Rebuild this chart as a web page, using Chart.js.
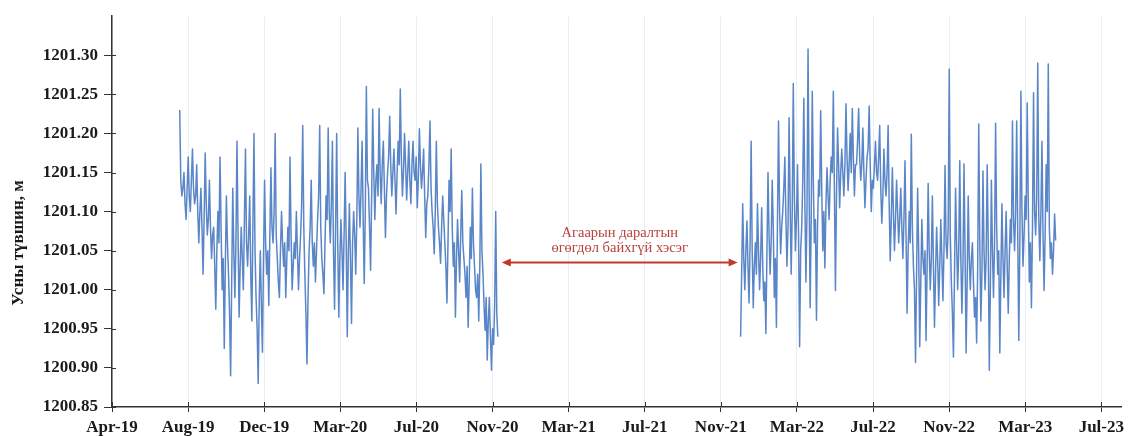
<!DOCTYPE html>
<html>
<head>
<meta charset="utf-8">
<script src="https://cdn.jsdelivr.net/npm/chart.js@4.4.1/dist/chart.umd.min.js"></script>
<style>
  html, body { margin: 0; padding: 0; background: #ffffff; }
  #wrap { width: 1129px; height: 436px; position: relative; }
</style>
</head>
<body>
<div id="wrap"><canvas id="levelChart"></canvas></div>
<script>
// x axis runs in label steps: 0 = Apr-19, 1 = Aug-19, ...
const tickLabels = ['Apr-19', 'Aug-19', 'Dec-19', 'Mar-20', 'Jul-20', 'Nov-20', 'Mar-21',
                    'Jul-21', 'Nov-21', 'Mar-22', 'Jul-22', 'Nov-22', 'Mar-23', 'Jul-23'];
const yTicks = { min: 1200.85, max: 1201.35, step: 0.05 };
const yTitle = 'Усны түвшин, м';
const noteLines = ['Агаарын даралтын', 'өгөгдөл байхгүй хэсэг'];

// first logger record, Jul-19 .. Dec-20
const seg1Start = 0.89, seg1End = 5.07;
const seg1Levels = [
  1201.23, 1201.14, 1201.12, 1201.13, 1201.15, 1201.11, 1201.09, 1201.13, 1201.17, 1201.12,
  1201.10, 1201.14, 1201.18, 1201.13, 1201.11, 1201.12, 1201.16, 1201.10,
  1201.06, 1201.10, 1201.13, 1201.08, 1201.02, 1201.09, 1201.175, 1201.11, 1201.07, 1201.09,
  1201.14, 1201.08, 1201.04, 1201.07,
  1201.08, 1201.03, 1200.975, 1201.05, 1201.10, 1201.06, 1201.17, 1201.08, 1201.00, 1201.04,
  1200.925, 1201.03, 1201.12, 1201.06,
  1201.02, 1200.97, 1200.89, 1201.01, 1201.13, 1201.05, 1200.99, 1201.06, 1201.19, 1201.07,
  1200.965, 1201.03, 1201.08, 1201.04,
  1201.00, 1201.09, 1201.18, 1201.06, 1201.03, 1201.07, 1201.12, 1201.02, 1200.96, 1201.08,
  1201.20, 1201.05, 1200.99, 1200.95, 1200.88, 1200.99,
  1201.05, 1200.98, 1200.92, 1201.04, 1201.14, 1201.06, 1201.02, 1201.05, 1200.98, 1201.07,
  1201.156, 1201.08, 1201.06, 1201.10, 1201.20, 1201.07,
  1201.04, 1201.01, 1200.99, 1201.05, 1201.10, 1201.06, 1201.03, 1201.06, 1200.99, 1201.04,
  1201.08, 1201.05, 1201.17, 1201.07, 1201.00, 1201.03, 1201.06, 1201.04,
  1201.10, 1201.05, 1201.00, 1201.04, 1201.07, 1201.11, 1201.21, 1201.08, 1201.02, 1200.97,
  1200.905, 1200.99, 1201.05, 1201.08, 1201.14, 1201.06, 1201.03, 1201.06, 1201.01, 1201.05,
  1201.09, 1201.12, 1201.21, 1201.08, 1201.04, 1201.02, 1200.995, 1201.06, 1201.12, 1201.09,
  1201.207, 1201.10, 1201.06, 1201.11, 1201.19, 1201.05, 1200.975, 1201.08, 1201.20, 1201.06,
  1200.965, 1201.04, 1201.09, 1201.05, 1201.00, 1201.07, 1201.15, 1201.06, 1200.94, 1201.05,
  1201.11, 1201.04, 1200.957, 1201.06,
  1201.10, 1201.07, 1201.02, 1201.09, 1201.207, 1201.12, 1201.08, 1201.13, 1201.19, 1201.09,
  1201.008, 1201.10, 1201.26, 1201.14,
  1201.13, 1201.08, 1201.025, 1201.12, 1201.231, 1201.15, 1201.09, 1201.14, 1201.16, 1201.12,
  1201.232, 1201.15, 1201.11, 1201.16,
  1201.19, 1201.13, 1201.067, 1201.12, 1201.15, 1201.17, 1201.222, 1201.16, 1201.12, 1201.15,
  1201.18, 1201.14, 1201.097, 1201.15,
  1201.19, 1201.16, 1201.257, 1201.17, 1201.12, 1201.15, 1201.20, 1201.16, 1201.115, 1201.15,
  1201.19, 1201.14, 1201.11, 1201.16,
  1201.19, 1201.15, 1201.14, 1201.17, 1201.105, 1201.14, 1201.206, 1201.16, 1201.13, 1201.15,
  1201.18, 1201.12, 1201.067, 1201.11,
  1201.12, 1201.16, 1201.216, 1201.13, 1201.10, 1201.08, 1201.046, 1201.10, 1201.19, 1201.11,
  1201.08, 1201.06, 1201.034, 1201.08,
  1201.12, 1201.09, 1201.06, 1201.03, 1200.983, 1201.06, 1201.14, 1201.10, 1201.18, 1201.08,
  1201.03, 1201.06, 1200.965, 1201.04,
  1201.09, 1201.05, 1201.01, 1201.07, 1201.127, 1201.06, 1201.04, 1201.02, 1200.99, 1201.03,
  1200.952, 1201.01, 1201.08, 1201.04,
  1201.13, 1201.06, 1201.03, 1201.00, 1200.99, 1201.02, 1200.96, 1201.03, 1201.161, 1201.05,
  1201.02, 1200.98, 1200.948, 1200.99,
  1200.91, 1200.96, 1200.99, 1200.94, 1200.897, 1200.95, 1200.93, 1200.98, 1201.10, 1200.97,
  1200.94
];

// second logger record, Dec-21 .. May-23
const seg2Start = 8.26, seg2End = 12.40;
const seg2Levels = [
  1200.94, 1201.02, 1201.11, 1201.04, 1201.00, 1201.05, 1201.088, 1201.03, 1200.983, 1201.06,
  1201.19, 1201.05,
  1200.977, 1201.03, 1201.06, 1201.02, 1201.11, 1201.05, 1201.00, 1201.04, 1201.105, 1201.03,
  1200.986, 1201.01, 1200.944, 1201.05,
  1201.15, 1201.07, 1201.02, 1201.06, 1201.14, 1201.08, 1200.99, 1201.04, 1200.952, 1201.09,
  1201.216, 1201.10, 1201.046, 1201.08,
  1201.10, 1201.13, 1201.17, 1201.09, 1201.03, 1201.08, 1201.22, 1201.11, 1201.02, 1201.10,
  1201.264, 1201.12, 1201.05, 1201.09,
  1201.16, 1201.07, 1200.927, 1201.05, 1201.08, 1201.14, 1201.245, 1201.11, 1201.01, 1201.10,
  1201.308, 1201.13, 1200.977, 1201.09,
  1201.254, 1201.14, 1201.06, 1201.09, 1200.961, 1201.08, 1201.14, 1201.12, 1201.229, 1201.13,
  1201.05, 1201.10, 1201.028, 1201.11,
  1201.156, 1201.12, 1201.09, 1201.14, 1201.17, 1201.15, 1201.254, 1201.13, 1200.999, 1201.12,
  1201.207, 1201.16, 1201.105, 1201.15,
  1201.18, 1201.15, 1201.12, 1201.16, 1201.238, 1201.17, 1201.127, 1201.16, 1201.20, 1201.15,
  1201.232, 1201.17, 1201.12, 1201.16,
  1201.16, 1201.19, 1201.232, 1201.17, 1201.14, 1201.16, 1201.207, 1201.15, 1201.105, 1201.14,
  1201.17, 1201.18, 1201.235, 1201.16,
  1201.10, 1201.14, 1201.13, 1201.16, 1201.19, 1201.15, 1201.14, 1201.17, 1201.21, 1201.13,
  1201.085, 1201.12, 1201.18, 1201.14, 1201.12, 1201.15, 1201.21, 1201.11, 1201.037, 1201.09,
  1201.156, 1201.10, 1201.05, 1201.09,
  1201.14, 1201.10, 1201.06, 1201.09, 1201.13, 1201.08, 1201.04, 1201.09, 1201.165, 1201.07,
  1200.97, 1201.05, 1201.10, 1201.06,
  1201.199, 1201.08, 1201.03, 1201.00, 1200.907, 1201.02, 1201.13, 1201.05, 1200.927, 1201.01,
  1201.09, 1201.04, 1201.02, 1201.05,
  1200.935, 1201.03, 1201.136, 1201.05, 1201.00, 1201.04, 1201.12, 1201.03, 1200.952, 1201.02,
  1201.08, 1201.04, 1200.98, 1201.03,
  1201.09, 1201.04, 1200.986, 1201.05, 1201.159, 1201.06, 1201.04, 1201.08, 1201.282, 1201.07,
  1201.01, 1200.97, 1200.914, 1201.02,
  1201.13, 1201.06, 1201.00, 1201.05, 1201.165, 1201.04, 1200.97, 1201.03, 1201.161, 1201.05,
  1200.919, 1201.01, 1201.12, 1201.04,
  1201.00, 1201.04, 1201.06, 1201.01, 1200.965, 1200.99, 1200.932, 1201.03, 1201.212, 1201.06,
  1200.96, 1201.02, 1201.152, 1201.05,
  1201.00, 1201.04, 1201.16, 1201.06, 1200.897, 1201.00, 1201.14, 1201.05, 1200.99, 1201.06,
  1201.213, 1201.08, 1201.02, 1201.05,
  1200.919, 1201.02, 1201.11, 1201.04, 1200.99, 1201.05, 1201.10, 1201.03, 1200.97, 1201.04,
  1201.09, 1201.06, 1201.216, 1201.09,
  1201.05, 1201.10, 1201.216, 1201.07, 1200.935, 1201.06, 1201.254, 1201.10, 1201.03, 1201.07,
  1201.12, 1201.09, 1201.239, 1201.11,
  1201.01, 1201.06, 1200.977, 1201.08, 1201.252, 1201.10, 1201.07, 1201.12, 1201.29, 1201.09,
  1201.037, 1201.10, 1201.19, 1201.07,
  1200.999, 1201.07, 1201.16, 1201.10, 1201.289, 1201.08, 1201.04, 1201.06, 1201.02, 1201.05,
  1201.097, 1201.063
];

// level at which the "no pressure data" arrow is drawn
const gapLevel = 1201.035;

const serif = "'Liberation Serif', 'Times New Roman', serif";
const lineColor = '#5a86c8';
const noteColor = '#c0392b';

function toPoints(start, end, values) {
  const step = (end - start) / (values.length - 1);
  return values.map((v, i) => ({ x: start + i * step, y: v }));
}

const extras = {
  id: 'extras',
  afterDraw(chart) {
    const { ctx, chartArea, scales: { x, y } } = chart;
    ctx.save();

    // inner half of the cross tick marks
    ctx.strokeStyle = '#333';
    ctx.lineWidth = 1;
    x.ticks.forEach((t, i) => {
      const px = Math.round(x.getPixelForTick(i)) + 0.5;
      ctx.beginPath();
      ctx.moveTo(px, chartArea.bottom);
      ctx.lineTo(px, chartArea.bottom - 5);
      ctx.stroke();
    });
    y.ticks.forEach((t, i) => {
      const py = Math.round(y.getPixelForTick(i)) + 0.5;
      ctx.beginPath();
      ctx.moveTo(chartArea.left, py);
      ctx.lineTo(chartArea.left + 4, py);
      ctx.stroke();
    });

    // y axis title
    ctx.save();
    ctx.translate(19, 243);
    ctx.rotate(-Math.PI / 2);
    ctx.fillStyle = '#1a1a1a';
    ctx.font = "bold 17px " + serif;
    ctx.textAlign = 'center';
    ctx.textBaseline = 'middle';
    ctx.fillText(yTitle, 0, 0);
    ctx.restore();

    // double arrow over the gap between the two records
    const x0 = x.getPixelForValue(seg1End) + 4;
    const x1 = x.getPixelForValue(seg2Start) - 3;
    const ay = Math.round(y.getPixelForValue(gapLevel)) + 0.5;
    ctx.strokeStyle = noteColor;
    ctx.fillStyle = noteColor;
    ctx.lineWidth = 2;
    ctx.beginPath();
    ctx.moveTo(x0 + 6, ay);
    ctx.lineTo(x1 - 6, ay);
    ctx.stroke();
    [[x0, 1], [x1, -1]].forEach(([hx, dir]) => {
      ctx.beginPath();
      ctx.moveTo(hx, ay);
      ctx.lineTo(hx + dir * 9, ay - 4);
      ctx.lineTo(hx + dir * 9, ay + 4);
      ctx.closePath();
      ctx.fill();
    });

    // note text above the arrow
    const cx = (x0 + x1) / 2;
    ctx.font = "14.5px " + serif;
    ctx.textAlign = 'center';
    ctx.textBaseline = 'middle';
    ctx.fillStyle = '#b8413a';
    ctx.fillText(noteLines[0], cx, ay - 29);
    ctx.fillText(noteLines[1], cx, ay - 14);

    ctx.restore();
  }
};

new Chart(document.getElementById('levelChart'), {
  type: 'line',
  data: {
    datasets: [
      { data: toPoints(seg1Start, seg1End, seg1Levels) },
      { data: toPoints(seg2Start, seg2End, seg2Levels) }
    ].map(d => Object.assign(d, {
      borderColor: lineColor,
      borderWidth: 1.5,
      borderJoinStyle: 'round',
      pointRadius: 0,
      tension: 0,
      fill: false
    }))
  },
  options: {
    responsive: true,
    maintainAspectRatio: false,
    animation: false,
    events: [],
    layout: { padding: { top: 15, right: 0, bottom: 0, left: 0 } },
    plugins: { legend: { display: false }, tooltip: { enabled: false } },
    scales: {
      x: {
        type: 'linear',
        min: 0,
        max: 13.26,
        afterBuildTicks: s => { s.ticks = s.ticks.filter(t => Number.isInteger(t.value)); },
        afterFit: s => { s.height = 29; },
        ticks: {
          stepSize: 1,
          includeBounds: false,
          autoSkip: false,
          maxRotation: 0,
          padding: 5,
          color: '#1a1a1a',
          font: { family: serif, size: 17, weight: 'bold' },
          callback: v => tickLabels[v]
        },
        grid: { color: 'rgba(190,205,225,0.35)', tickColor: '#333', tickLength: 5, lineWidth: 1 },
        border: { color: '#333', width: 1.5 }
      },
      y: {
        min: yTicks.min,
        max: yTicks.max,
        afterBuildTicks: s => { s.ticks = s.ticks.filter(t => t.value < yTicks.max - 0.001); },
        afterFit: s => { s.width = 112; },
        ticks: {
          stepSize: yTicks.step,
          padding: 6,
          color: '#1a1a1a',
          font: { family: serif, size: 17, weight: 'bold' },
          callback: v => Number(v).toFixed(2)
        },
        grid: { drawOnChartArea: false, tickColor: '#333', tickLength: 8 },
        border: { color: '#333', width: 1.5 }
      }
    }
  },
  plugins: [extras]
});
</script>
</body>
</html>
